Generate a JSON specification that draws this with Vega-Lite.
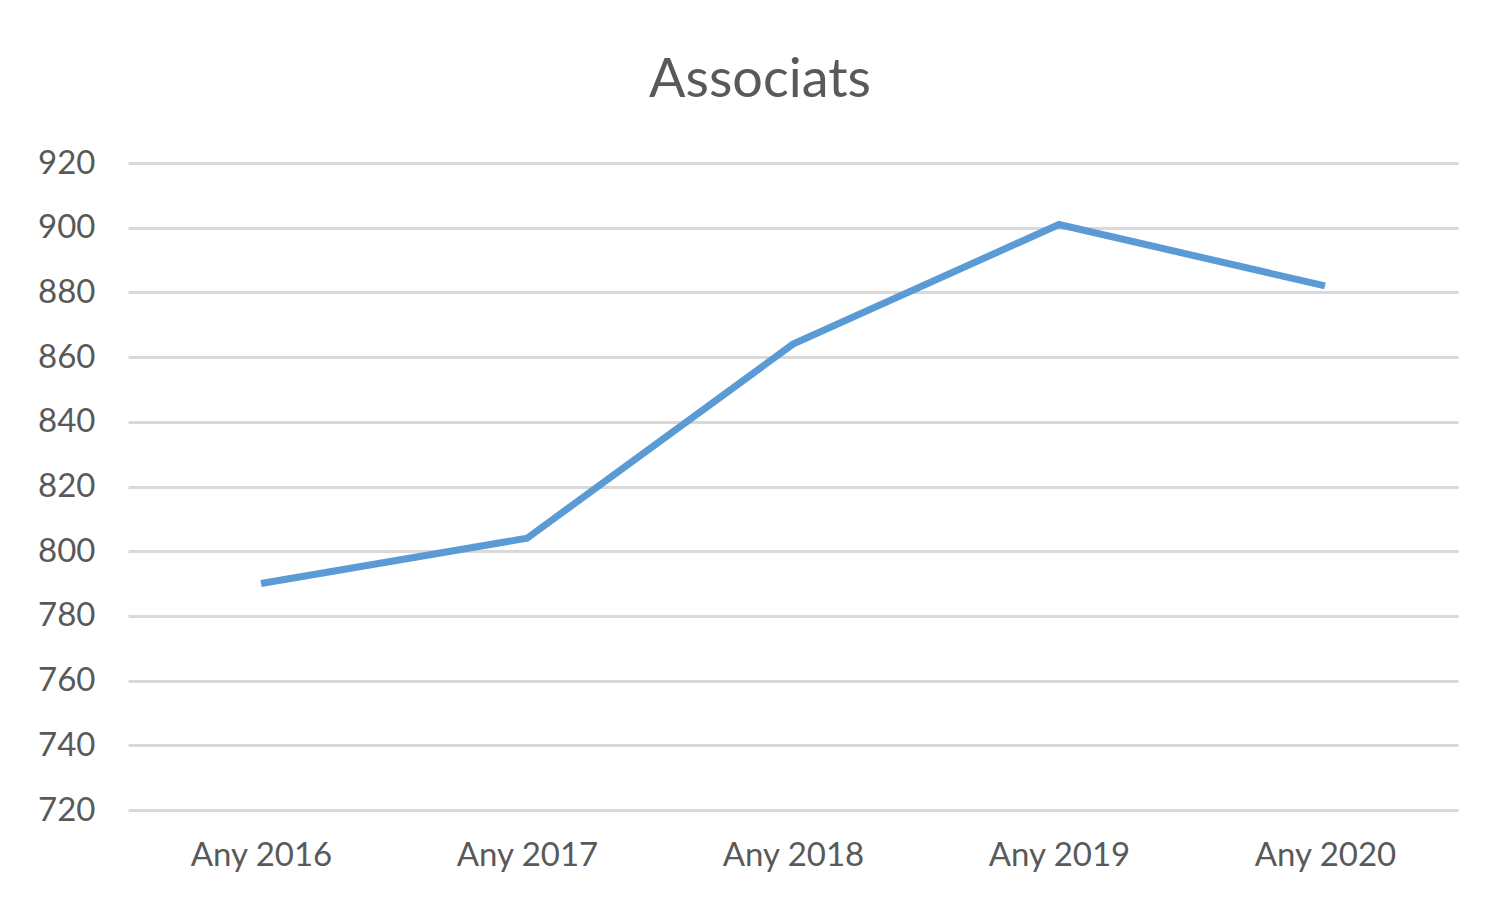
{
  "$schema": "https://vega.github.io/schema/vega-lite/v6.json",
  "autosize": "none",
  "width": 1330,
  "height": 647,
  "padding": {"left": 128, "top": 163, "right": 27, "bottom": 90},
  "background": "white",
  "title": {
    "text": "Associats",
    "font": "Lato",
    "fontSize": 54,
    "fontWeight": "normal",
    "color": "#595959",
    "anchor": "middle",
    "dx": -33,
    "dy": 68,
    "baseline": "alphabetic",
    "offset": 64
  },
  "data": {
    "values": [
      {"any": "Any 2016", "valor": 790},
      {"any": "Any 2017", "valor": 804},
      {"any": "Any 2018", "valor": 864},
      {"any": "Any 2019", "valor": 901},
      {"any": "Any 2020", "valor": 882}
    ]
  },
  "mark": {"type": "line", "color": "#5b9bd5", "strokeWidth": 7},
  "encoding": {
    "x": {
      "field": "any",
      "type": "ordinal",
      "sort": null,
      "scale": {"type": "point", "padding": 0.5},
      "axis": {
        "title": null,
        "labelAngle": 0,
        "labelFont": "Lato",
        "labelFontSize": 33,
        "labelColor": "#595959",
        "labelPadding": 29,
        "ticks": false,
        "domain": false,
        "grid": false
      }
    },
    "y": {
      "field": "valor",
      "type": "quantitative",
      "scale": {"domain": [720, 920], "nice": false, "zero": false},
      "axis": {
        "title": null,
        "values": [720, 740, 760, 780, 800, 820, 840, 860, 880, 900, 920],
        "labelFont": "Lato",
        "labelFontSize": 33,
        "labelColor": "#595959",
        "labelPadding": 33,
        "ticks": false,
        "domain": false,
        "grid": true,
        "gridColor": "#d9d9d9",
        "gridWidth": 3
      }
    }
  },
  "config": {"view": {"stroke": null}}
}
